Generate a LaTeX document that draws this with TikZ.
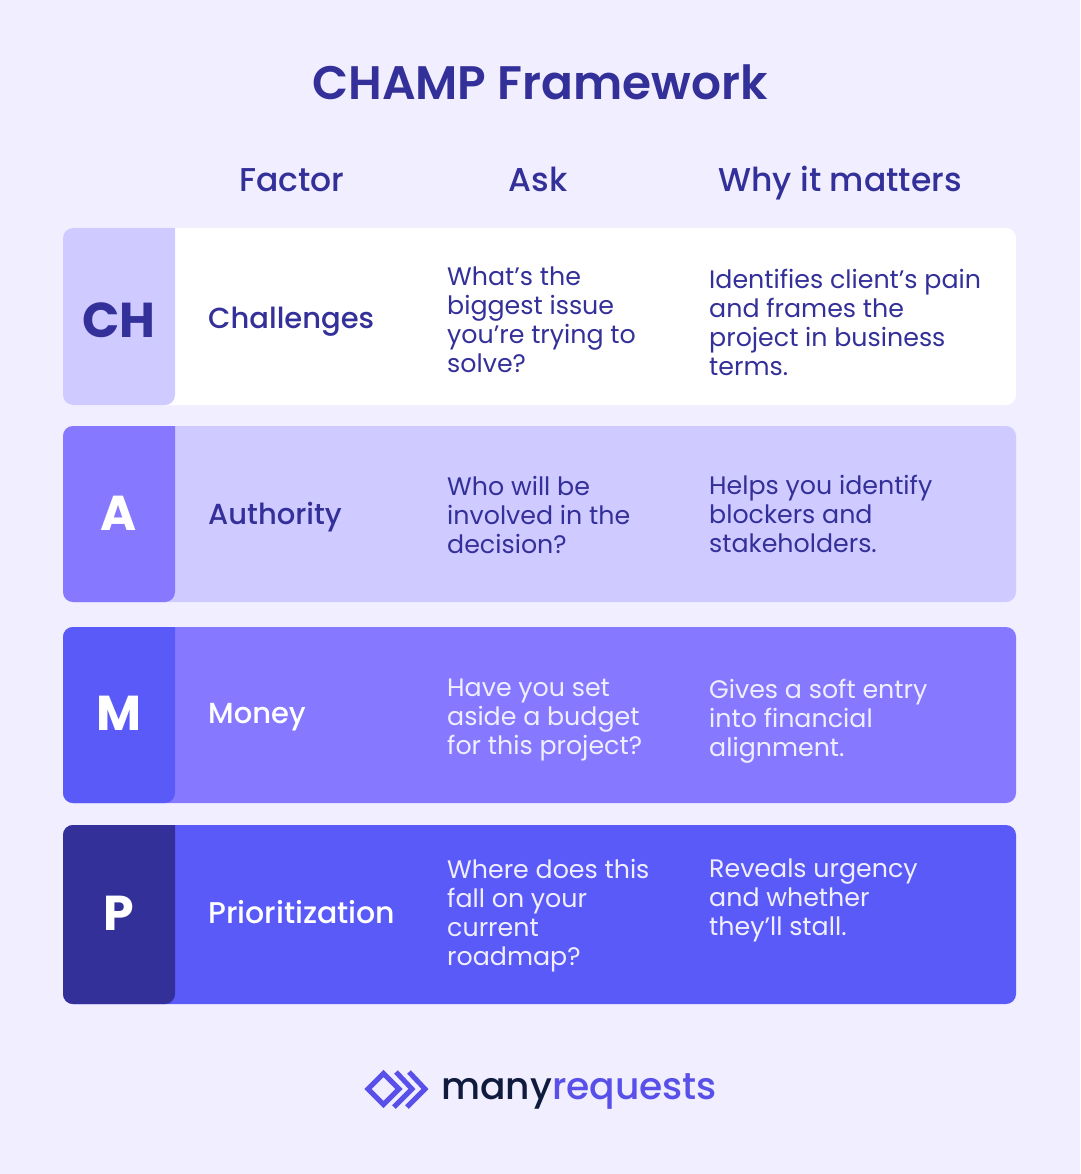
\documentclass[tikz,border=0pt]{standalone}
\usepackage{fontspec}
\setmainfont{Poppins}
\newfontfamily\medfont{Poppins Medium}
\newfontfamily\semifont{Poppins SemiBold}
\definecolor{pagebg}{HTML}{F0EEFF}
\definecolor{lilac}{HTML}{CFCAFF}
\definecolor{violet}{HTML}{8679FF}
\definecolor{royal}{HTML}{5A5AF8}
\definecolor{navy}{HTML}{343099}
\definecolor{inkdark}{HTML}{0F1A3C}
\definecolor{logoblue}{HTML}{5850E8}
\begin{document}
\begin{tikzpicture}[x=1pt,y=-1pt,
  heading/.style={font=\medfont\fontsize{33}{33}\selectfont, text=navy, inner sep=0pt, anchor=base},
  letter/.style={font=\bfseries\fontsize{49}{49}\selectfont, inner sep=0pt, anchor=base},
  factor/.style={font=\medfont\fontsize{29}{31}\selectfont, anchor=base west, inner sep=0pt},
  cell/.style={font=\fontsize{25.3}{29}\selectfont, anchor=west, align=left, inner sep=0pt},
  logotext/.style={font=\medfont\fontsize{37.6}{37.6}\selectfont, inner sep=0pt},
  logoline/.style={draw=logoblue, line width=5pt}]
    \useasboundingbox (0,0) rectangle (1080,1174);
    \fill[pagebg] (0,0) rectangle (1080,1174);
    \node[font=\semifont\fontsize{47}{47}\selectfont, text=navy, inner sep=0pt, anchor=base] (title) at (540,100) {CHAMP Framework};
    \node[heading] (hfactor) at (292,192) {Factor};
    \node[heading] (hask) at (538,192) {Ask};
    \node[heading] (hwhy) at (840,192) {Why it matters};
    % rows
    \fill[white, rounded corners=10pt] (63,228) rectangle (1016,405);
    \fill[lilac] (175,228) [rounded corners=10pt] -- (63,228) -- (63,405) -- (175,405) [sharp corners] -- cycle;
    \fill[lilac, rounded corners=10pt] (63,426) rectangle (1016,602);
    \fill[violet] (175,426) [rounded corners=10pt] -- (63,426) -- (63,602) -- (175,602) [sharp corners] -- cycle;
    \fill[violet, rounded corners=10pt] (63,627) rectangle (1016,803);
    \fill[royal] (175,627) [rounded corners=10pt] -- (63,627) -- (63,803) -- (175,803) [sharp corners] -- cycle;
    \fill[royal, rounded corners=10pt] (63,825) rectangle (1016,1004);
    \fill[navy] (175,825) [rounded corners=10pt] -- (63,825) -- (63,1004) -- (175,1004) [sharp corners] -- cycle;
    % row texts
    \node[letter, text=navy] (ch) at (119,337) {CH};
    \node[factor, text=navy] (challenges) at (208,328) {Challenges};
    \node[cell, text=navy] (askch) at (447,320) {What’s the\\biggest issue\\you’re trying to\\solve?};
    \node[cell, text=navy] (whych) at (709,322) {Identifies client’s pain\\and frames the\\project in business\\terms.};
    \node[letter, text=white] (a) at (119,530) {A};
    \node[factor, text=navy] (authority) at (208,524) {Authority};
    \node[cell, text=navy] (aska) at (447,515) {Who will be\\involved in the\\decision?};
    \node[cell, text=navy] (whya) at (709,514) {Helps you identify\\blockers and\\stakeholders.};
    \node[letter, text=white] (m) at (119,730) {M};
    \node[factor, text=white] (money) at (208,723) {Money};
    \node[cell, text=pagebg] (askm) at (447,720) {Have you set\\aside a budget\\for this project?};
    \node[cell, text=pagebg] (whym) at (709,721) {Gives a soft entry\\into financial\\alignment.};
    \node[letter, text=white] (p) at (119,930) {P};
    \node[factor, text=white, font=\medfont\fontsize{30}{31}\selectfont] (prioritization) at (208,923) {Prioritization};
    \node[cell, text=pagebg] (askp) at (447,916) {Where does this\\fall on your\\current\\roadmap?};
    \node[cell, text=pagebg] (whyp) at (709,900) {Reveals urgency\\and whether\\they’ll stall.};
    % logo
    \draw[logoline, miter limit=4] (383.5,1073.5) -- (399,1089) -- (383.5,1104.5) -- (368,1089) -- cycle;
    \draw[logoline] (396,1072) -- (412,1089) -- (394,1107);
    \draw[logoline] (409,1072) -- (425,1089) -- (407,1107);
    \node[logotext, anchor=base west] (logo) at (441,1099) {\textcolor{inkdark}{many}\textcolor{logoblue}{requests}};
\end{tikzpicture}
\end{document}
